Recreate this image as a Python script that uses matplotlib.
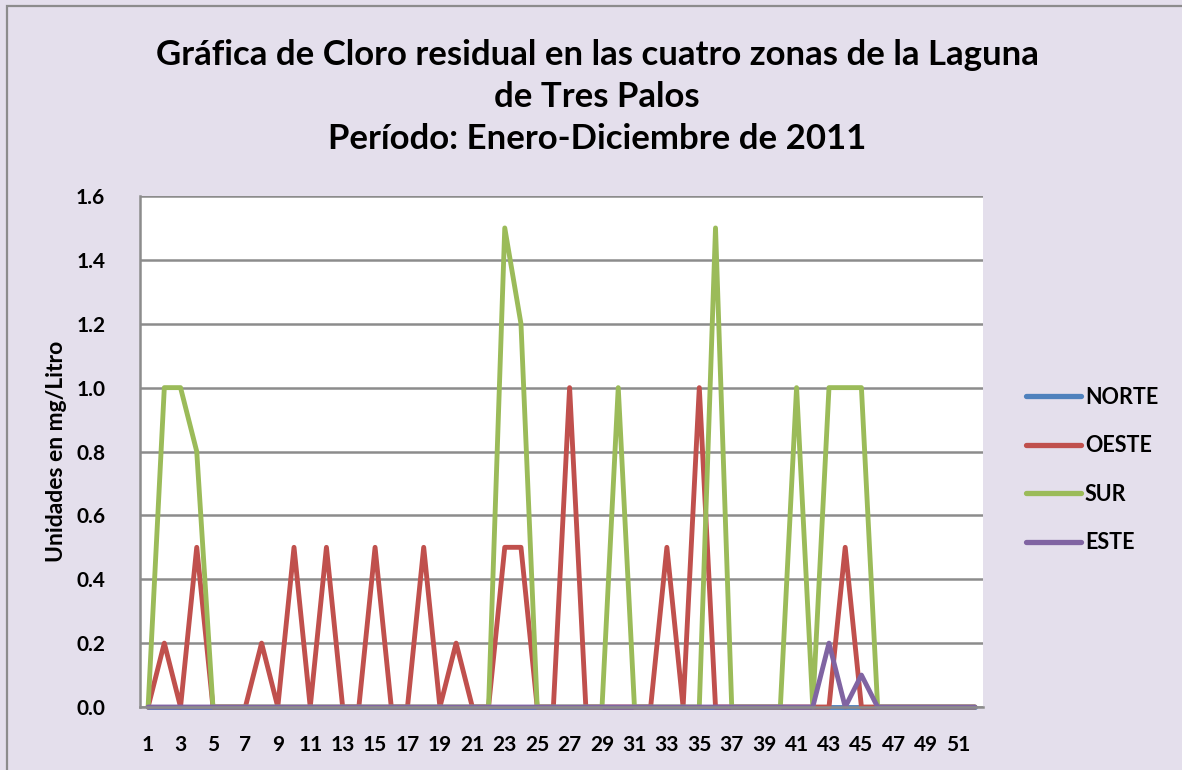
import matplotlib
matplotlib.use("Agg")
import matplotlib.pyplot as plt
from matplotlib.patches import Rectangle

weeks = list(range(1, 53))
norte = [0.0] * 52
oeste = [0, 0.2, 0, 0.5, 0, 0, 0, 0.2, 0, 0.5,
         0, 0.5, 0, 0, 0.5, 0, 0, 0.5, 0, 0.2,
         0, 0, 0.5, 0.5, 0, 0, 1.0, 0, 0, 0,
         0, 0, 0.5, 0, 1.0, 0, 0, 0, 0, 0,
         0, 0, 0, 0.5, 0, 0, 0, 0, 0, 0,
         0, 0]
sur = [0, 1.0, 1.0, 0.8, 0, 0, 0, 0, 0, 0,
       0, 0, 0, 0, 0, 0, 0, 0, 0, 0,
       0, 0, 1.5, 1.2, 0, 0, 0, 0, 0, 1.0,
       0, 0, 0, 0, 0, 1.5, 0, 0, 0, 0,
       1.0, 0, 1.0, 1.0, 1.0, 0, 0, 0, 0, 0,
       0, 0]
este = [0.0] * 42 + [0.2, 0, 0.1] + [0.0] * 7

series_names = ["NORTE", "OESTE", "SUR", "ESTE"]
series_colors = ["#4F81BD", "#C0504D", "#9BBB59", "#8064A2"]
yticks = [0.0, 0.2, 0.4, 0.6, 0.8, 1.0, 1.2, 1.4, 1.6]
xtick_labels = [str(i) for i in range(1, 52, 2)]

title = ("Gráfica de Cloro residual en las cuatro zonas de la Laguna\n"
         "de Tres Palos\nPeríodo: Enero-Diciembre de 2011")
ylabel = "Unidades en mg/Litro"

BG = "#E4DFEC"
plt.rcParams['font.family'] = ['Lato', 'DejaVu Sans']
plt.rcParams['font.weight'] = 'bold'

W, H = 1182, 770
fig = plt.figure(figsize=(W / 100, H / 100), dpi=100)
fig.patch.set_facecolor(BG)

# chart border
fig.patches.append(Rectangle((7 / W, -0.05), 1.2, 1 - 6 / H + 0.05,
                             transform=fig.transFigure, fill=False,
                             edgecolor="#8C8C8C", linewidth=1.6))

ax = fig.add_axes([140 / W, 1 - 707 / H, (983 - 140) / W, (707 - 196) / H])
ax.set_facecolor("white")

for name, vals, col in zip(series_names, [norte, oeste, sur, este], series_colors):
    ax.plot(weeks, vals, color=col, linewidth=3.5, label=name,
            solid_joinstyle='round', solid_capstyle='round', clip_on=False)

ax.set_xlim(0.5, 52.5)
ax.set_ylim(0, 1.6)
ax.set_yticks(yticks)
ax.set_yticklabels([f"{v:.1f}" for v in yticks], fontsize=15, fontweight='bold')
ax.set_xticks(list(range(1, 52, 2)))
ax.set_xticklabels(xtick_labels, fontsize=15, fontweight='bold')
ax.tick_params(axis='y', length=0, pad=25)
ax.tick_params(axis='x', length=0, pad=20)
ax.yaxis.grid(True, color="#8C8C8C", linewidth=1.8)
ax.set_axisbelow(True)
for s in ["top", "right"]:
    ax.spines[s].set_visible(False)
for s in ["left", "bottom"]:
    ax.spines[s].set_color("#8C8C8C")
    ax.spines[s].set_linewidth(1.8)

ax.set_ylabel(ylabel, fontsize=16.5, fontweight='bold')
ax.yaxis.set_label_coords(-0.087, 0.5)

fig.text(597 / W, 1 - 97 / H, title, ha='center', va='center',
         fontsize=25, fontweight='bold', linespacing=1.38)

leg = ax.legend(loc='center left', bbox_to_anchor=(1017 / W, 1 - 470 / H),
                bbox_transform=fig.transFigure, frameon=False,
                prop={'size': 15.5, 'weight': 'bold'}, handlelength=2.55,
                handletextpad=0.2, labelspacing=1.28, borderaxespad=0)
for line in leg.get_lines():
    line.set_linewidth(3.8)
    line.set_solid_capstyle('round')

fig.savefig("out.png", dpi=100, facecolor=BG)
